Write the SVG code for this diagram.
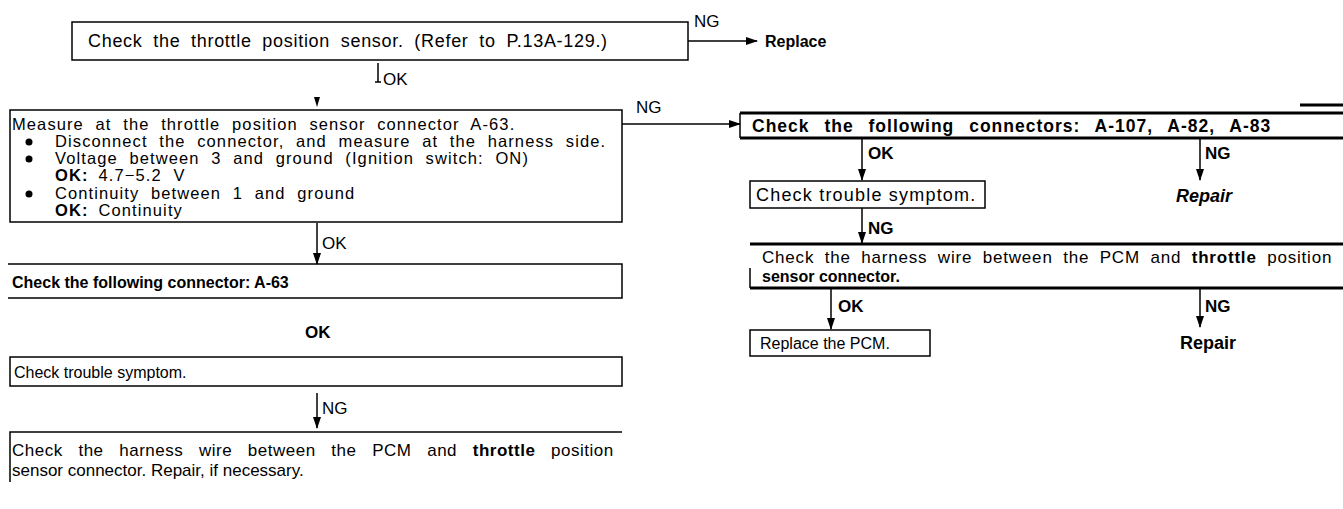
<svg xmlns="http://www.w3.org/2000/svg" width="1343" height="509" viewBox="0 0 1343 509">
<defs>
<marker id="ah" markerWidth="12" markerHeight="8" refX="11" refY="4" orient="auto" markerUnits="userSpaceOnUse">
<path d="M0,0 L12,4 L0,8 z" fill="#000"/>
</marker>
</defs>
<style>
text{font-family:"Liberation Sans",Arial,sans-serif;font-size:17px;fill:#000}
.t18{font-size:18px}
.t16{font-size:16px}
.bx{font-size:16.5px;letter-spacing:1.1px;word-spacing:6px}
.b{font-weight:bold}
.bi{font-weight:bold;font-style:italic}
.box{fill:none;stroke:#000;stroke-width:1.5}
.thick{stroke:#000;stroke-width:3;fill:none}
.ln{stroke:#000;stroke-width:1.5;fill:none}
.arr{stroke:#000;stroke-width:1.5;fill:none;marker-end:url(#ah)}
</style>

<g id="n1">
<rect class="box" x="72" y="22" width="616" height="38"/>
<text class="t18" x="88" y="47" style="letter-spacing:0.7px;word-spacing:5px">Check the throttle position sensor. (Refer to P.13A-129.)</text>
</g>
<g id="n_replace"><text class="b t16" x="765" y="47">Replace</text></g>

<g id="n2">
<path class="box" d="M10,110 H622 V222 H10 Z"/>
<text class="bx" x="12" y="130">Measure at the throttle position sensor connector A-63.</text>
<circle cx="29" cy="142" r="3.5"/>
<text class="bx" x="55" y="147">Disconnect the connector, and measure at the harness side.</text>
<circle cx="29" cy="159" r="3.5"/>
<text class="bx" x="55" y="164">Voltage between 3 and ground (Ignition switch: ON)</text>
<text class="bx" x="55" y="181"><tspan class="b">OK:</tspan><tspan dx="10">4.7−5.2 V</tspan></text>
<circle cx="29" cy="194" r="3.5"/>
<text class="bx" x="55" y="199">Continuity between 1 and ground</text>
<text class="bx" x="55" y="216"><tspan class="b">OK:</tspan><tspan dx="10">Continuity</tspan></text>
</g>

<g id="n3">
<path class="box" d="M8,264 H622 V298 H8"/>
<text class="b t16" x="12" y="288">Check the following connector: A-63</text>
</g>
<g id="n3ok"><text class="b" x="305" y="338">OK</text></g>

<g id="n4">
<rect class="box" x="10" y="357" width="612" height="29"/>
<text class="t16" x="14" y="378">Check trouble symptom.</text>
</g>

<g id="n5">
<path class="box" d="M10,482 V432 H622"/>
<text x="12" y="456" style="letter-spacing:0.5px;word-spacing:10.5px">Check the harness wire between the PCM and <tspan class="b">throttle</tspan> position</text>
<text x="12" y="476">sensor connector. Repair, if necessary.</text>
</g>

<g id="r1">
<path class="thick" d="M740,113 H1343 M740,138 H1343"/>
<path class="ln" d="M740,113 V138"/>
<path class="thick" d="M1300,105 H1343"/>
<text class="b" x="752" y="132" style="font-size:17.5px;letter-spacing:1px;word-spacing:9px">Check the following connectors: A-107, A-82, A-83</text>
</g>
<g id="r_repair1"><text class="bi t18" x="1176" y="202">Repair</text></g>

<g id="r2">
<rect class="box" x="750" y="181" width="235" height="27"/>
<text class="t18" x="756" y="201" style="letter-spacing:1.2px">Check trouble symptom.</text>
</g>

<g id="r3">
<path class="thick" d="M750,244 H1343 M750,288 H1343"/>
<path class="ln" d="M750,268 V288"/>
<text x="762" y="263" style="letter-spacing:0.8px;word-spacing:5px">Check the harness wire between the PCM and <tspan class="b">throttle</tspan> position</text>
<text class="b t16" x="762" y="282">sensor connector.</text>
</g>

<g id="r4">
<rect class="box" x="750" y="330" width="180" height="26"/>
<text class="t16" x="760" y="349">Replace the PCM.</text>
</g>
<g id="r_repair2"><text class="b t18" x="1180" y="349">Repair</text></g>

<g id="connectors">
<text x="694" y="27">NG</text>
<line class="arr" x1="688" y1="41" x2="757" y2="41"/>
<path class="ln" d="M378,63 V82 M375,82 H381"/>
<text x="383" y="85">OK</text>
<path d="M314,97 L320,97 L317,107 Z" fill="#000"/>
<line class="arr" x1="317" y1="223" x2="317" y2="264"/>
<text x="322" y="249">OK</text>
<line class="arr" x1="317" y1="393" x2="317" y2="428"/>
<text x="322" y="414">NG</text>
<text x="636" y="113">NG</text>
<line class="arr" x1="622" y1="124" x2="740" y2="124"/>
<line class="arr" x1="862" y1="139" x2="862" y2="180"/>
<text class="b" x="868" y="159">OK</text>
<line class="arr" x1="1200" y1="139" x2="1200" y2="180"/>
<text class="b" x="1205" y="159">NG</text>
<line class="arr" x1="862" y1="208" x2="862" y2="243"/>
<text class="b" x="868" y="234">NG</text>
<line class="arr" x1="831" y1="289" x2="831" y2="329"/>
<text class="b" x="838" y="312">OK</text>
<line class="arr" x1="1200" y1="289" x2="1200" y2="327"/>
<text class="b" x="1205" y="312">NG</text>
</g>
</svg>
